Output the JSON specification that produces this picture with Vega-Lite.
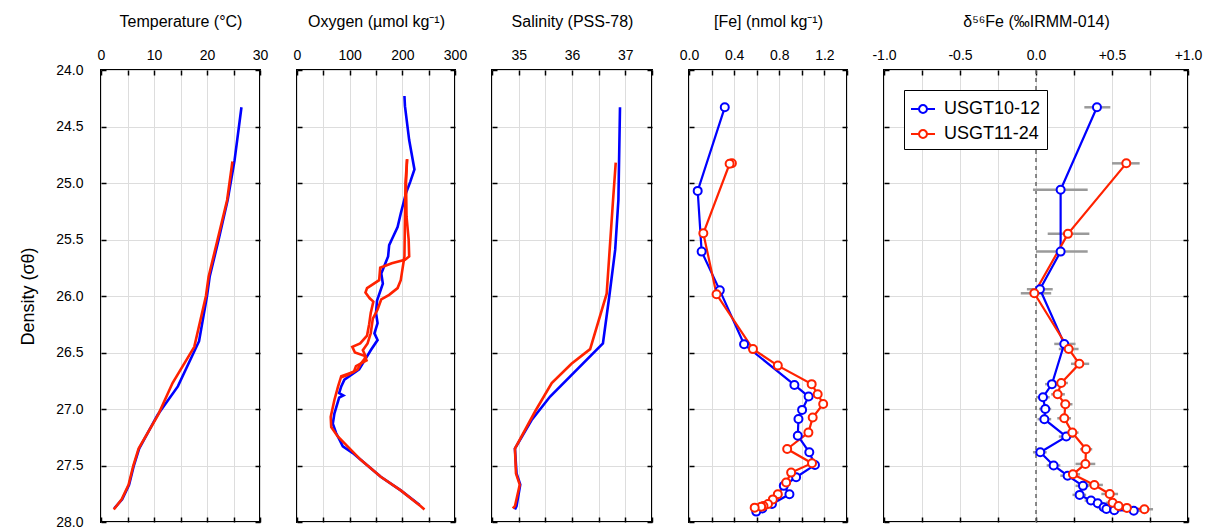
{
 "$schema": "https://vega.github.io/schema/vega-lite/v6.json",
 "padding": {"left": 18, "top": 12, "right": 5, "bottom": 2},
 "background": "white",
 "spacing": 37,
 "bounds": "flush",
 "resolve": {"legend": {"color": "independent"}},
 "datasets": {
  "temp": [
   {"s":"USGT10-12","d":24.33,"v":26.5},{"s":"USGT10-12","d":24.8,"v":25.2},{"s":"USGT10-12","d":25.15,"v":23.9},{"s":"USGT10-12","d":25.5,"v":22.2},{"s":"USGT10-12","d":25.83,"v":20.5},{"s":"USGT10-12","d":26.0,"v":20.0},{"s":"USGT10-12","d":26.4,"v":18.5},{"s":"USGT10-12","d":26.8,"v":14.5},{"s":"USGT10-12","d":27.05,"v":10.7},{"s":"USGT10-12","d":27.35,"v":7.2},{"s":"USGT10-12","d":27.5,"v":6.2},{"s":"USGT10-12","d":27.67,"v":5.3},{"s":"USGT10-12","d":27.8,"v":4.0},{"s":"USGT10-12","d":27.88,"v":2.5},
   {"s":"USGT11-24","d":24.81,"v":24.8},{"s":"USGT11-24","d":25.15,"v":23.8},{"s":"USGT11-24","d":25.5,"v":22.0},{"s":"USGT11-24","d":25.83,"v":20.3},{"s":"USGT11-24","d":26.0,"v":19.8},{"s":"USGT11-24","d":26.45,"v":17.6},{"s":"USGT11-24","d":26.77,"v":13.5},{"s":"USGT11-24","d":27.05,"v":10.8},{"s":"USGT11-24","d":27.35,"v":7.1},{"s":"USGT11-24","d":27.5,"v":6.1},{"s":"USGT11-24","d":27.67,"v":5.2},{"s":"USGT11-24","d":27.8,"v":3.9},{"s":"USGT11-24","d":27.89,"v":2.4}
  ],
  "oxy": [
   {"s":"USGT10-12","c":"a","d":24.23,"v":204},{"s":"USGT10-12","c":"a","d":24.32,"v":205},{"s":"USGT10-12","c":"a","d":24.62,"v":213},{"s":"USGT10-12","c":"a","d":24.88,"v":223},{"s":"USGT10-12","c":"a","d":24.99,"v":215},{"s":"USGT10-12","c":"a","d":25.09,"v":207},{"s":"USGT10-12","c":"a","d":25.27,"v":197},{"s":"USGT10-12","c":"a","d":25.39,"v":191},{"s":"USGT10-12","c":"a","d":25.5,"v":180},{"s":"USGT10-12","c":"a","d":25.55,"v":175},{"s":"USGT10-12","c":"a","d":25.65,"v":173},{"s":"USGT10-12","c":"a","d":25.8,"v":160},{"s":"USGT10-12","c":"a","d":25.89,"v":163},{"s":"USGT10-12","c":"a","d":26.04,"v":152},{"s":"USGT10-12","c":"a","d":26.15,"v":150},{"s":"USGT10-12","c":"a","d":26.24,"v":153},{"s":"USGT10-12","c":"a","d":26.33,"v":147},{"s":"USGT10-12","c":"a","d":26.39,"v":153},{"s":"USGT10-12","c":"a","d":26.48,"v":140},{"s":"USGT10-12","c":"a","d":26.55,"v":131},{"s":"USGT10-12","c":"a","d":26.65,"v":118},{"s":"USGT10-12","c":"a","d":26.74,"v":90},{"s":"USGT10-12","c":"a","d":26.8,"v":84},{"s":"USGT10-12","c":"a","d":26.86,"v":80},{"s":"USGT10-12","c":"a","d":26.88,"v":88},{"s":"USGT10-12","c":"a","d":26.9,"v":80},{"s":"USGT10-12","c":"a","d":27.04,"v":71},{"s":"USGT10-12","c":"a","d":27.13,"v":68},{"s":"USGT10-12","c":"a","d":27.21,"v":74},{"s":"USGT10-12","c":"a","d":27.33,"v":87},{"s":"USGT10-12","c":"a","d":27.39,"v":106},{"s":"USGT10-12","c":"a","d":27.45,"v":121},{"s":"USGT10-12","c":"a","d":27.6,"v":159},{"s":"USGT10-12","c":"a","d":27.72,"v":197},{"s":"USGT10-12","c":"a","d":27.85,"v":233},
   {"s":"USGT11-24","c":"a","d":24.79,"v":209},{"s":"USGT11-24","c":"a","d":25.0,"v":207},{"s":"USGT11-24","c":"a","d":25.3,"v":208},{"s":"USGT11-24","c":"a","d":25.5,"v":212},{"s":"USGT11-24","c":"a","d":25.65,"v":213},{"s":"USGT11-24","c":"a","d":25.68,"v":205},{"s":"USGT11-24","c":"a","d":25.71,"v":180},{"s":"USGT11-24","c":"a","d":25.75,"v":158},{"s":"USGT11-24","c":"a","d":25.86,"v":156},{"s":"USGT11-24","c":"a","d":25.93,"v":133},{"s":"USGT11-24","c":"a","d":25.97,"v":130},{"s":"USGT11-24","c":"a","d":26.02,"v":138},{"s":"USGT11-24","c":"a","d":26.05,"v":145},{"s":"USGT11-24","c":"a","d":26.15,"v":140},{"s":"USGT11-24","c":"a","d":26.25,"v":137},{"s":"USGT11-24","c":"a","d":26.35,"v":133},{"s":"USGT11-24","c":"a","d":26.42,"v":120},{"s":"USGT11-24","c":"a","d":26.45,"v":105},{"s":"USGT11-24","c":"a","d":26.5,"v":110},{"s":"USGT11-24","c":"a","d":26.53,"v":128},{"s":"USGT11-24","c":"a","d":26.57,"v":132},{"s":"USGT11-24","c":"a","d":26.62,"v":112},{"s":"USGT11-24","c":"a","d":26.67,"v":108},{"s":"USGT11-24","c":"a","d":26.71,"v":84},{"s":"USGT11-24","c":"a","d":26.8,"v":78},{"s":"USGT11-24","c":"a","d":26.92,"v":71},{"s":"USGT11-24","c":"a","d":27.07,"v":64},{"s":"USGT11-24","c":"a","d":27.16,"v":65},{"s":"USGT11-24","c":"a","d":27.24,"v":77},{"s":"USGT11-24","c":"a","d":27.33,"v":96},{"s":"USGT11-24","c":"a","d":27.45,"v":121},{"s":"USGT11-24","c":"a","d":27.6,"v":159},{"s":"USGT11-24","c":"a","d":27.72,"v":197},{"s":"USGT11-24","c":"a","d":27.86,"v":235},{"s":"USGT11-24","c":"a","d":27.89,"v":242},
   {"s":"USGT11-24","c":"b","d":24.79,"v":209},{"s":"USGT11-24","c":"b","d":25.0,"v":206},{"s":"USGT11-24","c":"b","d":25.3,"v":205},{"s":"USGT11-24","c":"b","d":25.65,"v":204},{"s":"USGT11-24","c":"b","d":25.86,"v":197},{"s":"USGT11-24","c":"b","d":25.93,"v":191},{"s":"USGT11-24","c":"b","d":25.99,"v":175},{"s":"USGT11-24","c":"b","d":26.03,"v":160},{"s":"USGT11-24","c":"b","d":26.12,"v":153},{"s":"USGT11-24","c":"b","d":26.2,"v":144},{"s":"USGT11-24","c":"b","d":26.33,"v":140},{"s":"USGT11-24","c":"b","d":26.42,"v":134},{"s":"USGT11-24","c":"b","d":26.48,"v":125},{"s":"USGT11-24","c":"b","d":26.54,"v":131},{"s":"USGT11-24","c":"b","d":26.6,"v":121},{"s":"USGT11-24","c":"b","d":26.65,"v":115},{"s":"USGT11-24","c":"b","d":26.7,"v":96},{"s":"USGT11-24","c":"b","d":26.72,"v":84}
  ],
  "sal": [
   {"s":"USGT10-12","d":24.33,"v":36.9},{"s":"USGT10-12","d":25.15,"v":36.87},{"s":"USGT10-12","d":25.59,"v":36.81},{"s":"USGT10-12","d":26.0,"v":36.7},{"s":"USGT10-12","d":26.42,"v":36.58},{"s":"USGT10-12","d":26.89,"v":35.59},{"s":"USGT10-12","d":27.1,"v":35.24},{"s":"USGT10-12","d":27.35,"v":34.93},{"s":"USGT10-12","d":27.57,"v":34.96},{"s":"USGT10-12","d":27.67,"v":35.03},{"s":"USGT10-12","d":27.86,"v":34.96},{"s":"USGT10-12","d":27.89,"v":34.93},
   {"s":"USGT11-24","d":24.82,"v":36.82},{"s":"USGT11-24","d":25.15,"v":36.77},{"s":"USGT11-24","d":25.98,"v":36.65},{"s":"USGT11-24","d":26.47,"v":36.34},{"s":"USGT11-24","d":26.6,"v":35.99},{"s":"USGT11-24","d":26.77,"v":35.62},{"s":"USGT11-24","d":27.02,"v":35.31},{"s":"USGT11-24","d":27.35,"v":34.93},{"s":"USGT11-24","d":27.57,"v":34.95},{"s":"USGT11-24","d":27.67,"v":35.02},{"s":"USGT11-24","d":27.86,"v":34.93},{"s":"USGT11-24","d":27.88,"v":34.89}
  ],
  "fe": [
   {"s":"USGT10-12","d":24.33,"v":0.317},{"s":"USGT10-12","d":25.07,"v":0.077},{"s":"USGT10-12","d":25.607,"v":0.112},{"s":"USGT10-12","d":25.95,"v":0.273},{"s":"USGT10-12","d":26.427,"v":0.488},{"s":"USGT10-12","d":26.787,"v":0.934},{"s":"USGT10-12","d":26.89,"v":1.06},{"s":"USGT10-12","d":27.008,"v":1.002},{"s":"USGT10-12","d":27.088,"v":0.97},{"s":"USGT10-12","d":27.236,"v":0.964},{"s":"USGT10-12","d":27.383,"v":1.066},{"s":"USGT10-12","d":27.495,"v":1.116},{"s":"USGT10-12","d":27.604,"v":0.949},{"s":"USGT10-12","d":27.68,"v":0.84},{"s":"USGT10-12","d":27.755,"v":0.89},{"s":"USGT10-12","d":27.84,"v":0.735},{"s":"USGT10-12","d":27.88,"v":0.65},{"s":"USGT10-12","d":27.908,"v":0.596},
   {"s":"USGT11-24","d":24.825,"v":0.38},{"s":"USGT11-24","d":24.83,"v":0.36},{"s":"USGT11-24","d":25.445,"v":0.127},{"s":"USGT11-24","d":25.985,"v":0.244},{"s":"USGT11-24","d":26.47,"v":0.567},{"s":"USGT11-24","d":26.616,"v":0.787},{"s":"USGT11-24","d":26.78,"v":1.087},{"s":"USGT11-24","d":26.87,"v":1.14},{"s":"USGT11-24","d":26.955,"v":1.189},{"s":"USGT11-24","d":27.076,"v":1.096},{"s":"USGT11-24","d":27.209,"v":1.058},{"s":"USGT11-24","d":27.354,"v":0.87},{"s":"USGT11-24","d":27.48,"v":1.09},{"s":"USGT11-24","d":27.563,"v":0.905},{"s":"USGT11-24","d":27.651,"v":0.861},{"s":"USGT11-24","d":27.755,"v":0.787},{"s":"USGT11-24","d":27.8,"v":0.743},{"s":"USGT11-24","d":27.84,"v":0.7},{"s":"USGT11-24","d":27.858,"v":0.66},{"s":"USGT11-24","d":27.864,"v":0.64},{"s":"USGT11-24","d":27.873,"v":0.582}
  ],
  "d56": [
   {"s":"USGT10-12","d":24.33,"v":0.401,"lo":0.318,"hi":0.489},{"s":"USGT10-12","d":25.06,"v":0.162,"lo":-0.02,"hi":0.34},{"s":"USGT10-12","d":25.607,"v":0.162,"lo":0.0,"hi":0.34},{"s":"USGT10-12","d":25.94,"v":0.026,"lo":-0.06,"hi":0.11},{"s":"USGT10-12","d":26.424,"v":0.186,"lo":0.12,"hi":0.26},{"s":"USGT10-12","d":26.78,"v":0.105,"lo":0.06,"hi":0.15},{"s":"USGT10-12","d":26.896,"v":0.046,"lo":0.0,"hi":0.09},{"s":"USGT10-12","d":27.0,"v":0.061,"lo":0.02,"hi":0.1},{"s":"USGT10-12","d":27.09,"v":0.055,"lo":0.01,"hi":0.1},{"s":"USGT10-12","d":27.244,"v":0.199,"lo":0.15,"hi":0.25},{"s":"USGT10-12","d":27.383,"v":0.028,"lo":-0.02,"hi":0.07},{"s":"USGT10-12","d":27.5,"v":0.116,"lo":0.07,"hi":0.16},{"s":"USGT10-12","d":27.59,"v":0.208,"lo":0.16,"hi":0.25},{"s":"USGT10-12","d":27.68,"v":0.309,"lo":0.26,"hi":0.35},{"s":"USGT10-12","d":27.76,"v":0.287,"lo":0.24,"hi":0.33},{"s":"USGT10-12","d":27.81,"v":0.362,"lo":0.32,"hi":0.41},{"s":"USGT10-12","d":27.834,"v":0.406,"lo":0.36,"hi":0.45},{"s":"USGT10-12","d":27.87,"v":0.445,"lo":0.4,"hi":0.49},{"s":"USGT10-12","d":27.885,"v":0.463,"lo":0.42,"hi":0.51},{"s":"USGT10-12","d":27.895,"v":0.515,"lo":0.47,"hi":0.56},{"s":"USGT10-12","d":27.9,"v":0.643,"lo":0.6,"hi":0.69},
   {"s":"USGT11-24","d":24.826,"v":0.594,"lo":0.5,"hi":0.682},{"s":"USGT11-24","d":25.45,"v":0.21,"lo":0.077,"hi":0.351},{"s":"USGT11-24","d":25.976,"v":-0.011,"lo":-0.1,"hi":0.1},{"s":"USGT11-24","d":26.469,"v":0.215,"lo":0.15,"hi":0.28},{"s":"USGT11-24","d":26.6,"v":0.285,"lo":0.23,"hi":0.35},{"s":"USGT11-24","d":26.77,"v":0.166,"lo":0.13,"hi":0.21},{"s":"USGT11-24","d":26.87,"v":0.142,"lo":0.1,"hi":0.19},{"s":"USGT11-24","d":26.958,"v":0.193,"lo":0.16,"hi":0.24},{"s":"USGT11-24","d":27.082,"v":0.186,"lo":0.14,"hi":0.23},{"s":"USGT11-24","d":27.209,"v":0.239,"lo":0.2,"hi":0.28},{"s":"USGT11-24","d":27.356,"v":0.329,"lo":0.29,"hi":0.37},{"s":"USGT11-24","d":27.486,"v":0.325,"lo":0.26,"hi":0.39},{"s":"USGT11-24","d":27.578,"v":0.243,"lo":0.21,"hi":0.29},{"s":"USGT11-24","d":27.672,"v":0.384,"lo":0.33,"hi":0.44},{"s":"USGT11-24","d":27.752,"v":0.485,"lo":0.43,"hi":0.54},{"s":"USGT11-24","d":27.83,"v":0.504,"lo":0.46,"hi":0.55},{"s":"USGT11-24","d":27.858,"v":0.543,"lo":0.5,"hi":0.59},{"s":"USGT11-24","d":27.875,"v":0.598,"lo":0.55,"hi":0.65},{"s":"USGT11-24","d":27.887,"v":0.713,"lo":0.66,"hi":0.77}
  ]
 },
 "hconcat": [
  {
   "width": 159, "height": 452,
   "data": {"name": "temp"},
   "resolve": {"axis": {"x": "independent", "y": "independent"}},
   "layer": [
    {"mark": {"type": "line", "strokeWidth": 2.6},
     "encoding": {
      "x": {"field": "v", "type": "quantitative", "scale": {"domain": [0, 30], "nice": false, "zero": false},
            "axis": {"orient": "top", "title": "Temperature (°C)", "values": [0,5,10,15,20,25,30], "labelExpr": "datum.value % 10 === 0 ? datum.label : ''"}},
      "y": {"field": "d", "type": "quantitative", "scale": {"domain": [24, 28], "reverse": true, "nice": false, "zero": false},
            "axis": {"orient": "left", "title": "Density (σθ)", "titleFontSize": 18, "titlePadding": 18, "labelPadding": 23, "format": ".1f", "values": [24,24.5,25,25.5,26,26.5,27,27.5,28]}},
      "color": {"field": "s", "type": "nominal", "scale": {"domain": ["USGT10-12","USGT11-24"], "range": ["#0000ff","#ff2200"]}, "legend": null},
      "order": {"field": "d"}
     }},
    {"mark": {"type": "line", "opacity": 0},
     "encoding": {
      "x": {"field": "v", "type": "quantitative", "axis": {"orient": "bottom", "values": [0,5,10,15,20,25,30], "labels": false, "title": null, "grid": false}},
      "y": {"field": "d", "type": "quantitative", "axis": {"orient": "right", "values": [24,24.5,25,25.5,26,26.5,27,27.5,28], "labels": false, "title": null, "grid": false}}
     }}
   ]
  },
  {
   "width": 158, "height": 452,
   "data": {"name": "oxy"},
   "resolve": {"axis": {"x": "independent", "y": "independent"}},
   "layer": [
    {"mark": {"type": "line", "strokeWidth": 2.6},
     "encoding": {
      "x": {"field": "v", "type": "quantitative", "scale": {"domain": [0, 300], "nice": false, "zero": false},
            "axis": {"orient": "top", "title": "Oxygen (µmol kg⁻¹)", "values": [0,50,100,150,200,250,300], "labelExpr": "datum.value % 100 === 0 ? datum.label : ''"}},
      "y": {"field": "d", "type": "quantitative", "scale": {"domain": [24, 28], "reverse": true, "nice": false, "zero": false},
            "axis": {"orient": "left", "title": null, "labels": false, "values": [24,24.5,25,25.5,26,26.5,27,27.5,28]}},
      "color": {"field": "s", "type": "nominal", "scale": {"domain": ["USGT10-12","USGT11-24"], "range": ["#0000ff","#ff2200"]}, "legend": null},
      "detail": {"field": "c"},
      "order": {"field": "d"}
     }},
    {"mark": {"type": "line", "opacity": 0},
     "encoding": {
      "x": {"field": "v", "type": "quantitative", "axis": {"orient": "bottom", "values": [0,50,100,150,200,250,300], "labels": false, "title": null, "grid": false}},
      "y": {"field": "d", "type": "quantitative", "axis": {"orient": "right", "values": [24,24.5,25,25.5,26,26.5,27,27.5,28], "labels": false, "title": null, "grid": false}}
     }}
   ]
  },
  {
   "width": 160, "height": 452,
   "data": {"name": "sal"},
   "resolve": {"axis": {"x": "independent", "y": "independent"}},
   "layer": [
    {"mark": {"type": "line", "strokeWidth": 2.6},
     "encoding": {
      "x": {"field": "v", "type": "quantitative", "scale": {"domain": [34.5, 37.5], "nice": false, "zero": false},
            "axis": {"orient": "top", "title": "Salinity (PSS-78)", "values": [34.5,35,35.5,36,36.5,37,37.5], "labelExpr": "datum.value % 1 === 0 ? format(datum.value, 'd') : ''"}},
      "y": {"field": "d", "type": "quantitative", "scale": {"domain": [24, 28], "reverse": true, "nice": false, "zero": false},
            "axis": {"orient": "left", "title": null, "labels": false, "values": [24,24.5,25,25.5,26,26.5,27,27.5,28]}},
      "color": {"field": "s", "type": "nominal", "scale": {"domain": ["USGT10-12","USGT11-24"], "range": ["#0000ff","#ff2200"]}, "legend": null},
      "order": {"field": "d"}
     }},
    {"mark": {"type": "line", "opacity": 0},
     "encoding": {
      "x": {"field": "v", "type": "quantitative", "axis": {"orient": "bottom", "values": [34.5,35,35.5,36,36.5,37,37.5], "labels": false, "title": null, "grid": false}},
      "y": {"field": "d", "type": "quantitative", "axis": {"orient": "right", "values": [24,24.5,25,25.5,26,26.5,27,27.5,28], "labels": false, "title": null, "grid": false}}
     }}
   ]
  },
  {
   "width": 158, "height": 452,
   "data": {"name": "fe"},
   "resolve": {"axis": {"x": "independent", "y": "independent"}},
   "layer": [
    {"mark": {"type": "line", "strokeWidth": 2.2},
     "encoding": {
      "x": {"field": "v", "type": "quantitative", "scale": {"domain": [0, 1.4], "nice": false, "zero": false},
            "axis": {"orient": "top", "title": "[Fe] (nmol kg⁻¹)", "values": [0,0.2,0.4,0.6,0.8,1.0,1.2,1.4], "labelExpr": "round(datum.value * 10) % 4 === 0 ? format(datum.value, '.1f') : ''"}},
      "y": {"field": "d", "type": "quantitative", "scale": {"domain": [24, 28], "reverse": true, "nice": false, "zero": false},
            "axis": {"orient": "left", "title": null, "labels": false, "values": [24,24.5,25,25.5,26,26.5,27,27.5,28]}},
      "color": {"field": "s", "type": "nominal", "scale": {"domain": ["USGT10-12","USGT11-24"], "range": ["#0000ff","#ff2200"]}, "legend": null},
      "order": {"field": "d"}
     }},
    {"mark": {"type": "point", "filled": false, "fill": "white", "size": 64, "strokeWidth": 2, "opacity": 1},
     "encoding": {
      "x": {"field": "v", "type": "quantitative", "axis": {"orient": "bottom", "values": [0,0.2,0.4,0.6,0.8,1.0,1.2,1.4], "labels": false, "title": null, "grid": false}},
      "y": {"field": "d", "type": "quantitative", "axis": {"orient": "right", "values": [24,24.5,25,25.5,26,26.5,27,27.5,28], "labels": false, "title": null, "grid": false}},
      "color": {"field": "s", "type": "nominal", "scale": {"domain": ["USGT10-12","USGT11-24"], "range": ["#0000ff","#ff2200"]}, "legend": null}
     }}
   ]
  },
  {
   "width": 304, "height": 452,
   "data": {"name": "d56"},
   "resolve": {"axis": {"x": "independent", "y": "independent"}},
   "layer": [
    {"data": {"values": [{"zero": 0}]},
     "mark": {"type": "rule", "strokeDash": [4, 4], "color": "#666666", "strokeWidth": 1.5},
     "encoding": {
      "x": {"field": "zero", "type": "quantitative", "scale": {"domain": [-1, 1], "nice": false, "zero": false},
            "axis": {"orient": "top", "title": "δ⁵⁶Fe (‰IRMM-014)", "values": [-1,-0.75,-0.5,-0.25,0,0.25,0.5,0.75,1], "labelExpr": "round(datum.value * 4) % 2 !== 0 ? '' : (datum.value > 0 ? '+' + format(datum.value, '.1f') : (datum.value < 0 ? '-' + format(-datum.value, '.1f') : '0.0'))"}}
     }},
    {"mark": {"type": "rule", "color": "#9a9a9a", "strokeWidth": 2.5},
     "encoding": {
      "x": {"field": "lo", "type": "quantitative", "axis": null},
      "x2": {"field": "hi"},
      "y": {"field": "d", "type": "quantitative", "scale": {"domain": [24, 28], "reverse": true, "nice": false, "zero": false},
            "axis": {"orient": "left", "title": null, "labels": false, "values": [24,24.5,25,25.5,26,26.5,27,27.5,28]}}
     }},
    {"mark": {"type": "line", "strokeWidth": 2.2},
     "encoding": {
      "x": {"field": "v", "type": "quantitative", "axis": null},
      "y": {"field": "d", "type": "quantitative", "axis": null},
      "color": {"field": "s", "type": "nominal", "scale": {"domain": ["USGT10-12","USGT11-24"], "range": ["#0000ff","#ff2200"]},
        "legend": {"orient": "top-left", "offset": 20, "title": null, "strokeColor": "black", "fillColor": "white", "padding": 6, "labelFontSize": 18, "labelColor": "black", "labelFont": "Liberation Sans", "symbolType": "M-1,0L-0.33,0M0.33,0L1,0M-0.33,0A0.33,0.33,0,1,1,0.33,0A0.33,0.33,0,1,1,-0.33,0", "symbolSize": 576, "symbolStrokeWidth": 2, "symbolFillColor": "white", "rowPadding": 3, "labelOffset": 8}},
      "order": {"field": "d"}
     }},
    {"mark": {"type": "point", "filled": false, "fill": "white", "size": 64, "strokeWidth": 2, "opacity": 1},
     "encoding": {
      "x": {"field": "v", "type": "quantitative", "axis": {"orient": "bottom", "values": [-1,-0.75,-0.5,-0.25,0,0.25,0.5,0.75,1], "labels": false, "title": null, "grid": false}},
      "y": {"field": "d", "type": "quantitative", "axis": {"orient": "right", "values": [24,24.5,25,25.5,26,26.5,27,27.5,28], "labels": false, "title": null, "grid": false}},
      "color": {"field": "s", "type": "nominal", "scale": {"domain": ["USGT10-12","USGT11-24"], "range": ["#0000ff","#ff2200"]},
        "legend": {"orient": "top-left", "offset": 20, "title": null, "strokeColor": "black", "fillColor": "white", "padding": 6, "labelFontSize": 18, "labelColor": "black", "labelFont": "Liberation Sans", "symbolType": "M-1,0L-0.33,0M0.33,0L1,0M-0.33,0A0.33,0.33,0,1,1,0.33,0A0.33,0.33,0,1,1,-0.33,0", "symbolSize": 576, "symbolStrokeWidth": 2, "symbolFillColor": "white", "rowPadding": 3, "labelOffset": 8}}
     }}
   ]
  }
 ],
 "config": {
  "font": "Liberation Sans",
  "view": {"stroke": "black", "strokeWidth": 2},
  "axis": {"grid": true, "gridColor": "#dddddd", "gridWidth": 1, "domain": false, "ticks": true, "tickColor": "black", "tickSize": -5, "tickWidth": 1.5, "labelFontSize": 14, "labelColor": "black", "labelFont": "Liberation Sans", "titleFont": "Liberation Sans", "titleFontSize": 16, "titleFontWeight": "normal", "titleColor": "black", "labelFlush": false, "labelOverlap": false, "labelPadding": 13, "titlePadding": 19}
 }
}
